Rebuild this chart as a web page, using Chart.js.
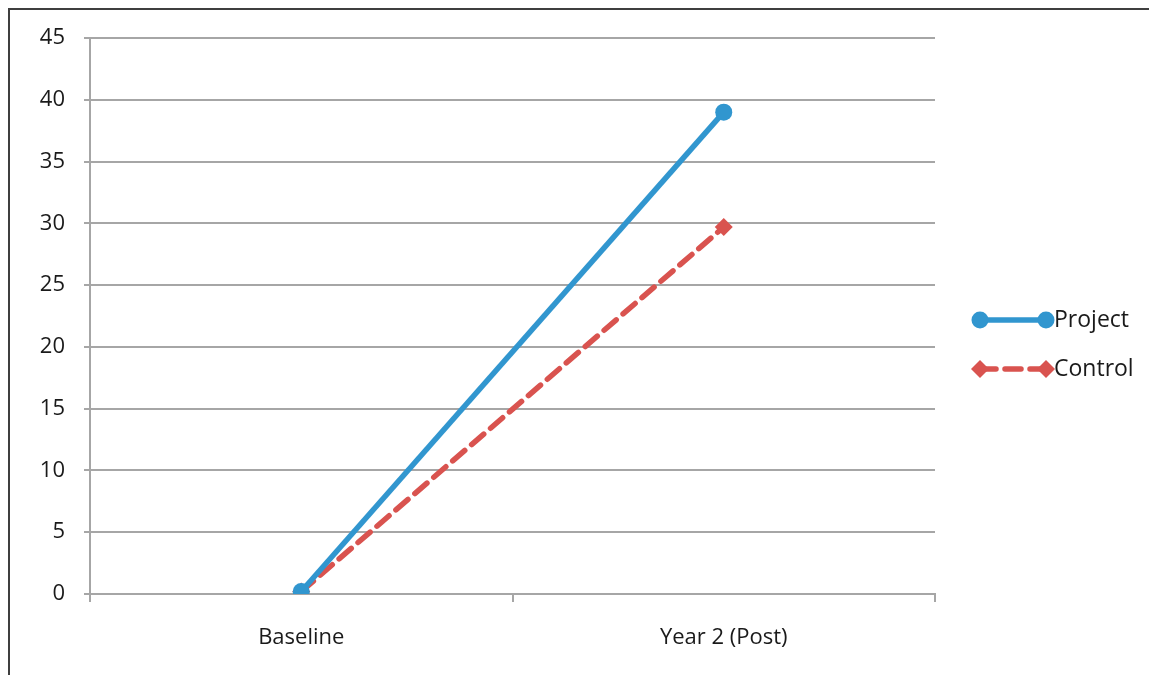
<!DOCTYPE html>
<html>
<head>
<meta charset="utf-8">
<script src="https://cdn.jsdelivr.net/npm/chart.js@4.4.0/dist/chart.umd.min.js"></script>
<style>
  html, body { margin: 0; padding: 0; background: #fff; }
  #wrap { width: 1149px; height: 675px; position: relative; }
</style>
</head>
<body>
<div id="wrap"><canvas id="myChart" width="1149" height="675"></canvas></div>
<script>
const categories = ["Baseline", "Year 2 (Post)"];
const projectValues = [0.2, 39];
const controlValues = [0.2, 29.7];
const yTicks = [0, 5, 10, 15, 20, 25, 30, 35, 40, 45];

const blue = "#3196cf";
const red = "#d9534f";
const fontFamily = "'Open Sans', 'Noto Sans', sans-serif";

// frame lines and the right hand legend, drawn by hand like Excel does
const framePlugin = {
  id: "frame",
  beforeDraw(chart) {
    const ctx = chart.ctx;
    ctx.save();
    ctx.strokeStyle = "#3f3f3f";
    ctx.lineWidth = 2;
    ctx.beginPath();
    ctx.moveTo(9, 675);
    ctx.lineTo(9, 9);
    ctx.lineTo(1149, 9);
    ctx.stroke();
    ctx.restore();
  },
  afterDraw(chart) {
    const ctx = chart.ctx;
    const rows = [320, 369];
    chart.data.datasets.forEach(function (ds, i) {
      const y = rows[i];
      ctx.save();
      ctx.strokeStyle = ds.borderColor;
      ctx.lineWidth = ds.borderWidth;
      ctx.setLineDash(ds.borderDash || []);
      ctx.lineCap = ds.borderDash ? "round" : "butt";
      ctx.beginPath();
      ctx.moveTo(980, y);
      ctx.lineTo(1046, y);
      ctx.stroke();
      ctx.setLineDash([]);
      ctx.fillStyle = ds.borderColor;
      [980, 1046].forEach(function (x) {
        Chart.helpers.drawPoint(ctx, {
          pointStyle: ds.pointStyle,
          radius: ds.pointRadius,
          borderWidth: 0
        }, x, y);
      });
      ctx.fillStyle = "#1a1a1a";
      ctx.font = "23px " + fontFamily;
      ctx.textBaseline = "middle";
      ctx.textAlign = "left";
      ctx.fillText(ds.label, 1054, y);
      ctx.restore();
    });
  }
};

new Chart(document.getElementById("myChart"), {
  type: "line",
  data: {
    labels: categories,
    datasets: [
      {
        label: "Project",
        data: projectValues,
        borderColor: blue,
        backgroundColor: blue,
        borderWidth: 5.5,
        pointStyle: "circle",
        pointRadius: 8.5,
        pointBorderWidth: 0,
        pointBackgroundColor: blue
      },
      {
        label: "Control",
        data: controlValues,
        borderColor: red,
        backgroundColor: red,
        borderWidth: 5.5,
        borderDash: [16, 9],
        borderCapStyle: "round",
        pointStyle: "rectRot",
        pointRadius: 9,
        pointBorderWidth: 0,
        pointBackgroundColor: red
      }
    ]
  },
  options: {
    responsive: false,
    animation: false,
    layout: { padding: { top: 38, right: 214, bottom: 0, left: 0 } },
    plugins: {
      legend: { display: false },
      tooltip: { enabled: false }
    },
    scales: {
      x: {
        offset: true,
        grid: {
          offset: true,
          drawOnChartArea: false,
          color: "#a6a6a6",
          lineWidth: 2,
          tickLength: 8
        },
        border: { display: true, color: "#a6a6a6", width: 2 },
        ticks: {
          color: "#1a1a1a",
          font: { family: fontFamily, size: 22 },
          padding: 23,
          maxRotation: 0
        },
        afterFit(scale) { scale.height = 81; }
      },
      y: {
        min: 0,
        max: 45,
        afterBuildTicks(scale) {
          scale.ticks = yTicks.map(function (v) { return { value: v }; });
        },
        grid: {
          color: "#a6a6a6",
          lineWidth: 2,
          tickLength: 6
        },
        border: { display: true, color: "#a6a6a6", width: 2 },
        ticks: {
          color: "#1a1a1a",
          font: { family: fontFamily, size: 22 },
          padding: 19
        },
        afterFit(scale) { scale.width = 90; }
      }
    }
  },
  plugins: [framePlugin]
});
</script>
</body>
</html>
